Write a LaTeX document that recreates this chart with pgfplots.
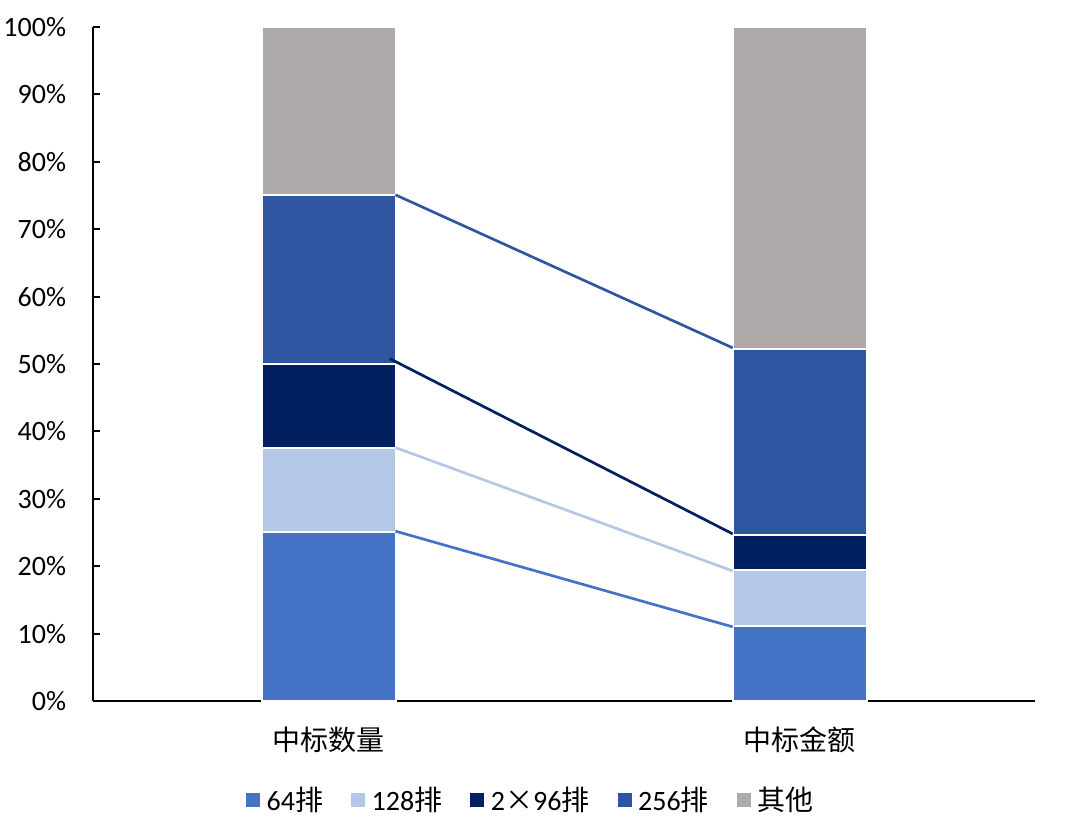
\documentclass[border=0pt]{standalone}
\usepackage{fontspec}
\setmainfont{Carlito}
\newfontfamily\cjk{Noto Sans CJK SC}
\usepackage{pgfplots}
\pgfplotsset{compat=1.18}

\definecolor{c64}{HTML}{4472C4}
\definecolor{c128}{HTML}{B4C7E7}
\definecolor{c296}{HTML}{002060}
\definecolor{c256}{HTML}{2F55A0}
\definecolor{cother}{HTML}{AEAAAA}

\newcommand{\pai}{{\cjk 排}}

\begin{document}
\begin{tikzpicture}
\pgfplotsset{
  base/.style={
    scale only axis, width=706.5pt, height=505.5pt,
    at={(0,0)}, anchor=south west,
    xmin=-0.5, xmax=1.5, ymin=0, ymax=100,
  }
}
\path[use as bounding box] (-69.75pt,-89.25pt) rectangle (729.75pt,525.75pt);
\begin{axis}[base,
  ybar stacked, bar width=100.5pt,
  axis x line*=bottom, axis y line*=left,
  axis line style={black, line width=1.5pt},
  font=\fontsize{21}{25}\selectfont,
  xtick={0,1}, xticklabels={{\cjk 中标数量},{\cjk 中标金额}},
  x tick style={draw=none},
  xticklabel style={anchor=center, yshift=-29pt},
  ytick={0,10,...,100}, yticklabel={\pgfmathprintnumber{\tick}\%},
  y tick style={black, line width=1.5pt}, tickwidth=5.25pt, tick align=inside,
  yticklabel style={anchor=east, inner sep=0pt, xshift=-20pt},
  /pgf/number format/assume math mode=true,
  legend columns=5,
  legend style={draw=none, fill=none, at={(0.465,-0.147)}, anchor=center,
    font=\fontsize{21}{25}\selectfont,
    /tikz/every even column/.append style={column sep=19pt},
    /tikz/every odd column/.append style={column sep=3pt},
    nodes={inner sep=2pt}},
  legend image code/.code={\path[#1, draw=none] (0pt,-5.25pt) rectangle (10.5pt,5.25pt);},
]
\addplot[fill=c64, draw=white, line width=1.5pt] coordinates {(0,25) (1,11.1)};
\addlegendentry{64\pai}
\addplot[fill=c128, draw=white, line width=1.5pt] coordinates {(0,12.5) (1,8.3)};
\addlegendentry{128\pai}
\addplot[fill=c296, draw=white, line width=1.5pt] coordinates {(0,12.5) (1,5.2)};
\addlegendentry{2{\cjk ×}96\pai}
\addplot[fill=c256, draw=white, line width=1.5pt] coordinates {(0,25) (1,27.6)};
\addlegendentry{256\pai}
\addplot[fill=cother, draw=white, line width=1.5pt] coordinates {(0,25) (1,47.8)};
\addlegendentry{{\cjk 其他}}
\end{axis}
\begin{axis}[base, hide axis, clip=false]
\addplot[c64, line width=2pt] coordinates {(0.142,25.2) (0.858,11.0)};
\addplot[c128, line width=2pt] coordinates {(0.142,37.6) (0.858,19.3)};
\addplot[c296, line width=2pt] coordinates {(0.13,50.8) (0.858,24.8)};
\addplot[c256, line width=2pt] coordinates {(0.142,75.1) (0.858,52.4)};
\end{axis}
\end{tikzpicture}
\end{document}
